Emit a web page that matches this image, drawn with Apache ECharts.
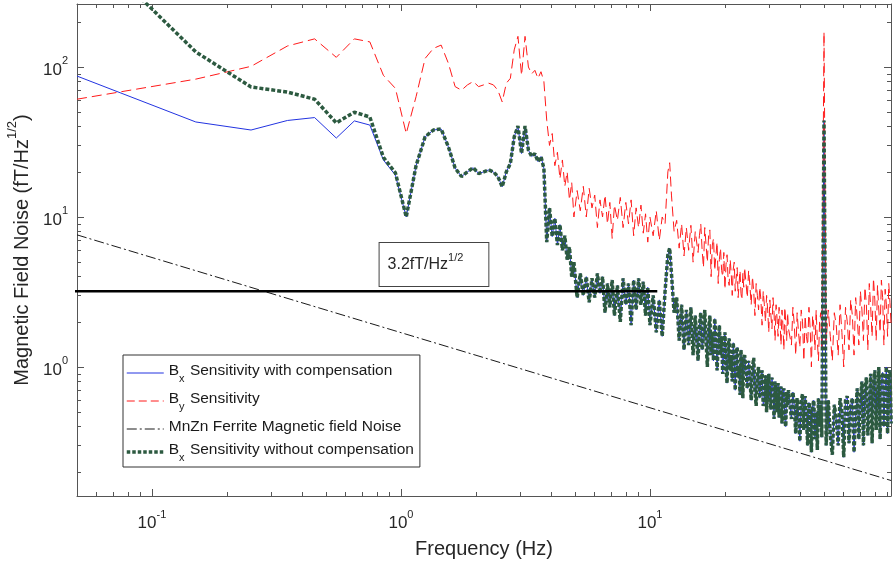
<!DOCTYPE html>
<html><head><meta charset="utf-8">
<script src="https://cdn.jsdelivr.net/npm/echarts@6/dist/echarts.min.js"></script>
<style>html,body{margin:0;padding:0;background:#fff}#c{width:893px;height:569px}</style>
</head><body><div id="c"></div>
<script>
const FONT = '"Liberation Sans", Arial, Helvetica, sans-serif';
const TXT = '#262626';
const AX = '#555555';

// ---- data (Hz, fT/Hz^1/2) ----
const freqLow = [0.05,0.15,0.25,0.35,0.45,0.55,0.65,0.75,0.85,0.95,1.05,1.15,1.25,1.35,1.45,1.55,1.65,1.75,1.85,1.95,2.05,2.15,2.25,2.35,2.45,2.55,2.65,2.75,2.85,2.95,3.05,3.15,3.25,3.35,3.45,3.55,3.65,3.75];
const bxCompLow = [87,43,38,44,46,33.6,43.7,41,24,19,10.0,22,34.2,38,38.6,29.4,21.2,18.6,20.0,21.3,19.5,20.0,20.6,20.0,18.6,15.9,20.0,22.7,34.2,40.4,26.5,40.4,27.9,25.3,26.5,23.4,25.3,21.1];
const bxNoCompLow = [750,126,73.6,68,61,42.4,50,46.4,25,19.7,10.0,22,34.2,38,38.6,29.4,21.2,18.6,20.0,21.3,19.5,20.0,20.6,20.0,18.6,15.9,20.0,22.7,34.2,40.4,26.5,40.4,27.9,25.3,26.5,23.4,25.3,21.1];
const byLow = [61,83,101,138,154,116,154,147,88,72,36,63.4,114,133,140,106,74,70,76,80,74,76,78,76,70,58.5,78,84,130,160,88,160,100,90,95,84,93,80];

const freqHigh = [3.85,3.95,4.05,4.15,4.25,4.35,4.45,4.55,4.65,4.75,4.85,4.95,
  5.1,5.25,5.4,5.55,5.7,5.85,6.0,6.15,6.3,6.45,6.6,6.75,6.9,7.05,7.2,
  7.4,7.6,7.8,8.0,8.2,8.4,8.6,8.8,9.0,9.2,9.4,9.6,9.8,10.0,
  10.3,10.6,10.9,11.2,11.5,11.8,12.0,12.2,
  12.5,12.8,13.1,13.4,13.7,14.0,14.3,14.6,14.9,15.2,
  15.6,15.8,16.0,16.2,16.4,16.6,16.8,17.0,17.2,17.4,17.6,17.8,18.0,18.2,18.4,18.6,18.8,19.0,19.2,19.4,19.6,19.8,20.0,20.2,20.4,20.6,20.8,21.0,21.2,21.4,21.6,21.8,22.0,22.2,22.4,22.6,22.8,23.0,23.2,23.4,23.6,23.8,24.0,
  24.6,24.9,25.2,25.5,25.8,26.1,26.4,26.7,27.0,27.3,27.6,27.9,28.2,28.5,28.8,29.1,29.4,29.7,30.0,30.3,30.6,30.9,31.2,31.5,31.8,32.1,32.4,32.7,33.0,33.3,33.6,33.9,34.2,34.5,34.8,35.1,35.4,35.7,36.0,
  37,37.5,38,38.5,39,39.5,40,40.5,41,41.5,42,42.5,43,43.5,44,44.5,45,45.5,46,46.5,47,47.5,48,48.5,49,
  50,51,
  52,53,54,55,56,57,58,59,60,61,62,63,64,65,66,67,68,69,70,71,72,73,74,75,76,77,78,79,80,81,82,83,84,85,86,87,88,89,90,91,92,93];
const bxHigh = [6.8,11.5,7.4,9.8,6.5,8.9,6.0,7.5,5.2,6.3,4.0,5.0,
  2.9,4.2,3.0,4.0,2.7,3.9,2.9,4.2,3.1,4.0,2.3,3.6,2.5,3.8,2.2,
  3.5,2.0,3.9,2.6,3.6,1.9,3.8,2.4,3.9,2.6,3.7,2.2,3.4,1.9,
  3.0,1.7,2.8,1.6,3.2,5.6,6.2,4.2,
  2.3,2.9,1.5,2.6,1.3,2.4,1.4,2.5,1.2,2.2,
  1.1,1.9,2.3,1.3,1.6,2.4,1.5,1.0,1.8,2.2,1.2,1.7,1.1,2.1,1.6,0.95,1.4,1.9,1.2,1.6,0.9,1.3,1.7,1.0,0.78,1.4,1.55,0.95,1.2,0.8,1.45,1.1,0.7,1.25,1.35,0.85,1.0,0.65,1.3,0.9,0.62,1.15,1.2,
  0.72,1.1,0.85,0.6,1.0,1.15,0.7,0.55,0.9,1.0,0.62,0.8,0.95,0.55,0.6,0.88,0.5,0.75,0.9,0.6,0.52,0.85,0.7,0.45,0.8,0.62,0.5,0.78,0.46,0.7,0.74,0.42,0.6,0.72,0.45,0.4,0.68,0.55,0.7,
  0.45,0.68,0.55,0.36,0.62,0.5,0.32,0.6,0.66,0.38,0.64,0.45,0.3,0.58,0.52,0.27,0.55,0.6,0.33,0.5,0.28,0.62,0.4,0.56,0.34,
  44,0.3,
  0.6,0.35,0.26,0.56,0.45,0.3,0.62,0.5,0.25,0.6,0.64,0.31,0.55,0.62,0.27,0.48,0.72,0.33,0.6,0.8,0.3,0.7,0.85,0.35,0.55,0.9,0.31,0.75,0.95,0.38,0.6,1.0,0.33,0.8,0.92,0.4,0.7,1.0,0.36,0.85,0.95,0.42];
const byHigh = [44,30,36,22,27,18,24,16,20,13,17,10,
  15,11,16,10,15.5,11.5,14,8.5,13,10,14,9,12.5,7.2,12,
  9.5,13.5,8.5,12.5,9,13,7.5,11.5,8.5,12,7.8,10.5,6.8,10,
  7.5,11,7.0,10,9,20,23,14,
  8,9.5,6.2,9,5.5,8.5,6,8.8,5.0,8,
  5.8,7.5,9,6,4.6,8.5,6.5,5,7.6,8.2,4.0,6.5,7.2,4.4,5.5,6.8,3.6,5.2,6.2,4.4,4.0,5.8,3.3,4.8,5.6,3.8,3.5,5.2,4.2,3.0,4.5,5.0,3.2,3.9,4.6,2.9,3.6,4.4,3.1,2.8,4.2,3.4,4.6,
  2.9,4.4,3.5,2.6,4.0,3.2,2.2,3.6,3.0,2.4,3.4,2.8,1.9,3.2,2.6,2.0,3.0,2.4,1.7,2.8,2.2,1.8,2.9,2.3,1.5,2.6,2.1,1.6,2.5,2.0,1.4,2.4,1.9,1.3,2.5,2.0,1.5,2.3,1.8,
  1.4,2.5,1.9,1.2,2.3,1.7,1.35,2.4,2.0,1.1,2.2,1.6,1.4,2.5,1.8,1.0,2.2,1.9,1.3,2.4,1.5,1.1,2.0,2.3,1.3,
  171,1.5,
  2.4,1.6,1.1,2.3,1.9,1.2,2.6,1.7,1.0,2.5,2.0,1.3,2.8,2.2,1.2,2.9,2.1,1.4,3.2,2.4,1.5,3.4,2.6,1.3,3.6,2.5,1.6,3.9,2.8,1.5,3.5,2.4,1.7,3.8,2.9,1.4,3.3,2.6,1.6,3.6,2.7,1.9];

const ferriteFreq = [0.05, 93];
const ferriteNoise = [7.6, 0.175];
const refFreq = [0.0469, 10.7];
const refLevel = [3.2, 3.2];

const xMajorTicks = [0.1, 1, 10];
const xMinorTicks = [0.06,0.07,0.08,0.09,0.2,0.3,0.4,0.5,0.6,0.7,0.8,0.9,2,3,4,5,6,7,8,9,20,30,40,50,60,70,80,90];
const yMajorTicks = [1, 10, 100];
const yMinorTicks = [0.2,0.3,0.4,0.5,0.6,0.7,0.8,0.9,2,3,4,5,6,7,8,9,20,30,40,50,60,70,80,90,200];
const xRange = [0.05, 92.9];
const yRange = [0.138, 263];

const seriesNames = ['Bx Sensitivity with compensation','By Sensitivity','MnZn Ferrite Magnetic field Noise','Bx Sensitivity without compensation'];

// ---- build ----
const lg = Math.log10;
function pairs(f, v) { const out = []; for (let i = 0; i < f.length && i < v.length; i++) out.push([lg(f[i]), lg(v[i])]); return out; }

const C_BLUE = '#2233e0', C_RED = '#ff1a1a', C_BLACK = '#1a1a1a', C_GREEN = '#2c5a40';

const tickRich = {
  b: {fontSize: 17, lineHeight: 23, padding: [6,0,0,0], verticalAlign: 'top', color: TXT, fontFamily: FONT},
  s: {fontSize: 11, lineHeight: 11, verticalAlign: 'top', color: TXT, fontFamily: FONT}
};
const supFmt = v => '{b|10}{s|' + Math.round(v) + '}';

function makeX(position, major, withLabel) {
  return {
    type: 'value', position: position,
    min: lg(xRange[0]), max: lg(xRange[1]),
    axisLine: {show: major, onZero: false, lineStyle: {color: AX, width: 1}},
    axisTick: {show: true, inside: true, length: major ? 7 : 4, customValues: (major ? xMajorTicks : xMinorTicks).map(lg), lineStyle: {color: AX, width: 1}},
    axisLabel: withLabel ? {show: true, customValues: xMajorTicks.map(lg), formatter: supFmt, margin: 13, rich: tickRich} : {show: false},
    splitLine: {show: false}
  };
}
function makeY(position, major, withLabel) {
  return {
    type: 'value', position: position,
    min: lg(yRange[0]), max: lg(yRange[1]),
    axisLine: {show: major, onZero: false, lineStyle: {color: AX, width: 1}},
    axisTick: {show: true, inside: true, length: major ? 7 : 4, customValues: (major ? yMajorTicks : yMinorTicks).map(lg), lineStyle: {color: AX, width: 1}},
    axisLabel: withLabel ? {show: true, customValues: yMajorTicks.map(lg), formatter: supFmt, margin: 9, rich: tickRich} : {show: false},
    splitLine: {show: false}
  };
}

const xAxes = [makeX('bottom', true, true), makeX('bottom', false, false), makeX('top', true, false), makeX('top', false, false)];
Object.assign(xAxes[0], {
  name: 'Frequency (Hz)', nameLocation: 'middle', nameGap: 43,
  nameTextStyle: {fontSize: 20, color: TXT, fontFamily: FONT}
});
const yAxes = [makeY('left', true, true), makeY('left', false, false), makeY('right', true, false), makeY('right', false, false)];
Object.assign(yAxes[0], {
  name: '{m|Magnetic Field Noise (fT/Hz}{s|1/2}{m|)}', nameLocation: 'middle', nameRotate: 90, nameGap: 33,
  nameTextStyle: {fontSize: 20, color: TXT, fontFamily: FONT, rich: {
    m: {fontSize: 20, lineHeight: 26, padding: [6,0,0,0], verticalAlign: 'top', color: TXT, fontFamily: FONT},
    s: {fontSize: 13, lineHeight: 13, verticalAlign: 'top', color: TXT, fontFamily: FONT}
  }}
});

const legendRich = {
  m: {fontSize: 15.5, lineHeight: 20, verticalAlign: 'top', color: '#1a1a1a', fontFamily: FONT},
  sub: {fontSize: 11, lineHeight: 20, padding: [10,1,0,0], verticalAlign: 'top', color: '#1a1a1a', fontFamily: FONT}
};

const option = {
  animation: false,
  backgroundColor: '#ffffff',
  grid: {left: 77, right: 2, top: 4, bottom: 73, containLabel: false, outerBoundsMode: 'none'},
  xAxis: xAxes,
  yAxis: yAxes,
  legend: {
    data: [
      {name: seriesNames[0], lineStyle: {color: C_BLUE, width: 1, type: 'solid'}},
      {name: seriesNames[1], lineStyle: {color: C_RED, width: 1, type: [8, 4]}},
      {name: seriesNames[2], lineStyle: {color: C_BLACK, width: 1, type: [10, 3, 2, 3]}},
      {name: seriesNames[3], lineStyle: {color: C_GREEN, width: 3.5, type: [3.5, 2]}}
    ],
    orient: 'vertical', left: 123, top: 355,
    padding: [8, 6, 4, 2], itemGap: 7, itemWidth: 37, itemHeight: 14,
    borderColor: '#333', borderWidth: 1, backgroundColor: '#fff', borderRadius: 0,
    itemStyle: {opacity: 0, borderWidth: 0},
    textStyle: {fontSize: 15.5, color: '#1a1a1a', fontFamily: FONT, rich: legendRich},
    formatter: function (name) {
      const m = name.match(/^B([xy]) (.*)$/);
      if (m) return '{m|B}{sub|' + m[1] + '}{m| ' + m[2] + '}';
      return '{m|' + name + '}';
    },
    selectedMode: false
  },
  series: [
    {name: seriesNames[0], type: 'line', symbol: 'none', showSymbol: false,
      data: pairs(freqLow, bxCompLow).concat(pairs(freqHigh, bxHigh)),
      lineStyle: {color: C_BLUE, width: 1}, itemStyle: {color: C_BLUE}},
    {name: seriesNames[1], type: 'line', symbol: 'none', showSymbol: false,
      data: pairs(freqLow, byLow).concat(pairs(freqHigh, byHigh)),
      lineStyle: {color: C_RED, width: 1, type: [10, 5]}, itemStyle: {color: C_RED}},
    {name: seriesNames[2], type: 'line', symbol: 'none', showSymbol: false,
      data: pairs(ferriteFreq, ferriteNoise),
      lineStyle: {color: C_BLACK, width: 1, type: [10, 3, 2, 3]}, itemStyle: {color: C_BLACK}},
    {name: seriesNames[3], type: 'line', symbol: 'none', showSymbol: false,
      data: pairs(freqLow, bxNoCompLow).concat(pairs(freqHigh, bxHigh)),
      lineStyle: {color: C_GREEN, width: 3.5, type: [4, 2]}, itemStyle: {color: C_GREEN}},
    {name: '3.2 reference', type: 'line', symbol: 'none', showSymbol: false, clip: false,
      data: pairs(refFreq, refLevel),
      lineStyle: {color: '#000', width: 2.6}, itemStyle: {color: '#000'},
      markPoint: {
        silent: true, symbol: 'rect', symbolSize: 1, itemStyle: {color: 'rgba(0,0,0,0)'},
        label: {
          show: true, position: 'inside', formatter: '{a|3.2fT/Hz}{s|1/2}',
          backgroundColor: '#fff', borderColor: '#444', borderWidth: 1,
          padding: [9, 25, 13, 8], color: TXT,
          rich: {
            a: {fontSize: 16, lineHeight: 21, padding: [5,0,0,0], verticalAlign: 'top', color: TXT, fontFamily: FONT},
            s: {fontSize: 11, lineHeight: 11, verticalAlign: 'top', color: TXT, fontFamily: FONT}
          }
        },
        data: [{coord: [lg(1.357), lg(4.82)]}]
      }}
  ]
};

const chart = echarts.init(document.getElementById('c'), null, {renderer: 'canvas', width: 893, height: 569});
chart.setOption(option);
</script>
</body></html>
